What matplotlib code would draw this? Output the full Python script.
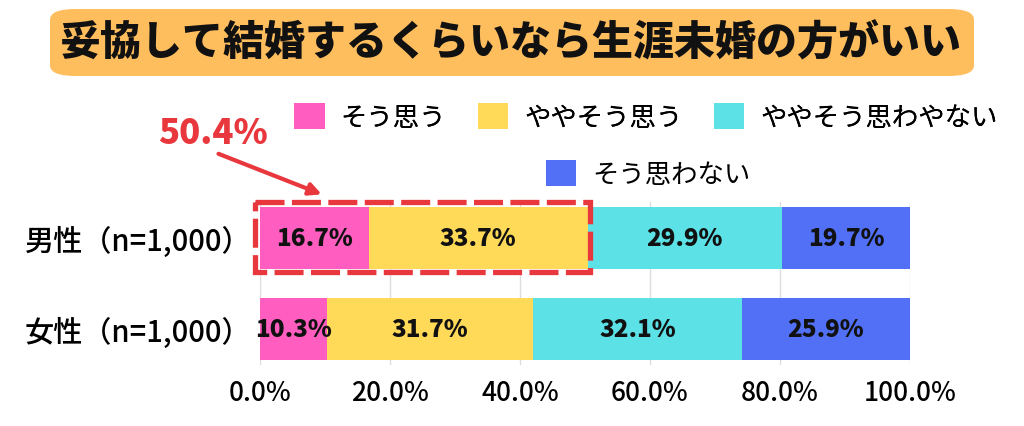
import matplotlib.pyplot as plt
from matplotlib.patches import FancyBboxPatch, Rectangle, Patch
import numpy as np

plt.rcParams['font.family'] = ['Noto Sans CJK JP', 'DejaVu Sans']

# data
title = '妥協して結婚するくらいなら生涯未婚の方がいい'
groups = ['男性（n=1,000）', '女性（n=1,000）']
answers = ['そう思う', 'ややそう思う', 'ややそう思わやない', 'そう思わない']
male = [16.7, 33.7, 29.9, 19.7]
female = [10.3, 31.7, 32.1, 25.9]
xticks = [0, 20, 40, 60, 80, 100]
highlight = 50.4
colors = ['#FF5EC0', '#FFD958', '#5CE1E6', '#5170F5']

values = np.array([male, female])

fig = plt.figure(figsize=(10.24, 4.27), dpi=100)
W, H = 1024, 427

# title box
fig.patches.append(FancyBboxPatch((50 / W, 1 - 77 / H), 924 / W, 67 / H,
                                  boxstyle='round,pad=0,rounding_size=0.025',
                                  transform=fig.transFigure, fc='#FFBE5E', ec='none'))
fig.text(511 / W, 1 - 43 / H, title, ha='center', va='center', fontsize=29.5,
         fontweight='black', color='#111111')

ax = fig.add_axes([260 / W, 1 - 366.4 / H, 650 / W, 163.8 / H])
left = np.zeros(len(groups))
for j, ans in enumerate(answers):
    ax.barh(range(len(groups)), values[:, j], left=left, height=0.68,
            color=colors[j], label=ans, zorder=2)
    for i in range(len(groups)):
        ax.text(left[i] + values[i, j] / 2, i, f'{values[i, j]:.1f}%', ha='center',
                va='center', fontsize=17.5, fontweight='black', color='#111111', zorder=3)
    left += values[:, j]

ax.set_xlim(0, 100)
ax.set_ylim(1.4, -0.4)
ax.set_xticks(xticks)
ax.set_xticklabels([f'{t:.1f}%' for t in xticks], fontsize=19, fontweight='medium')
ax.set_yticks(range(len(groups)))
ax.set_yticklabels(groups, fontsize=21, fontweight='medium')
ax.tick_params(axis='x', length=0, pad=10)
ax.tick_params(axis='y', length=0, pad=6)
ax.grid(axis='x', color='#DDDDDD', lw=1, zorder=0)
for s in ax.spines.values():
    s.set_visible(False)

# dashed highlight box
ax.add_patch(Rectangle((-0.8, -0.4), highlight + 1.2, 0.77, fill=False, ec='#E8383D',
                       lw=3.8, ls=(0, (5.5, 1.4)), zorder=4, clip_on=False))
ax.annotate(f'{highlight:.1f}%', xy=(9.5, -0.48), xytext=(213 / W, 1 - 133 / H),
            textcoords='figure fraction', ha='center', va='center', fontsize=25,
            fontweight='black', color='#E8383D', annotation_clip=False,
            arrowprops=dict(arrowstyle='-|>', color='#E8383D', lw=3, mutation_scale=18,
                            shrinkA=3, shrinkB=0, relpos=(0.45, 0)))

handles = [Patch(fc=c) for c in colors]
leg1 = fig.legend(handles[:3], answers[:3], ncol=3, loc='center', bbox_to_anchor=(646 / W, 1 - 118 / H),
                  frameon=False, fontsize=19, handlelength=1.15, handleheight=1.15,
                  handletextpad=0.6, columnspacing=1.2, borderpad=0, borderaxespad=0)
leg2 = fig.legend(handles[3:], answers[3:], loc='center', bbox_to_anchor=(648 / W, 1 - 175 / H),
                  frameon=False, fontsize=19, handlelength=1.15, handleheight=1.15,
                  handletextpad=0.6, borderpad=0, borderaxespad=0)
fig.add_artist(leg1)

fig.savefig('out.png', dpi=100)
